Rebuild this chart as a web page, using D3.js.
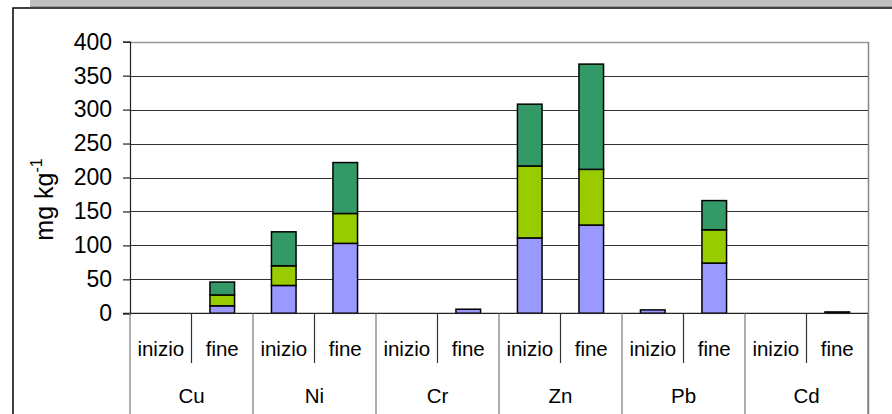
<!DOCTYPE html>
<html>
<head>
<meta charset="utf-8">
<script src="https://cdn.jsdelivr.net/npm/d3@7"></script>
<style>
  html, body { margin: 0; padding: 0; background: #fff; }
  svg { display: block; }
  text { font-family: "Liberation Sans", Arial, sans-serif; fill: #000; }
</style>
</head>
<body>
<svg id="chart" width="892" height="414"></svg>
<script>
// ---- data ----
const metals = ["Cu", "Ni", "Cr", "Zn", "Pb", "Cd"];
const phases = ["inizio", "fine"];
// three stacked components, one value per (metal, phase) slot, in order
const serie1 = [0, 11, 41, 103, 0, 6, 111, 130, 5, 74, 0, 2];
const serie2 = [0, 16, 29, 44, 0, 0, 106, 82, 0, 49, 0, 0];
const serie3 = [0, 19, 50, 75, 0, 0, 91, 155, 0, 43, 0, 0];
const yTicks = [0, 50, 100, 150, 200, 250, 300, 350, 400];
const yLabel = "mg kg";
const yLabelSup = "-1";

const seriesColors = ["#9999FF", "#99CC00", "#339966"];

// ---- layout ----
const svg = d3.select("#chart");
const W = 892, H = 414;
const plot = { left: 130, right: 868, top: 41.7, bottom: 313.3 };

// decorative frame
svg.append("rect").attr("x", 30).attr("y", 0).attr("width", W - 30).attr("height", 6.5).attr("fill", "#c0c0c0");
svg.append("line").attr("x1", 30).attr("x2", W).attr("y1", 6.5).attr("y2", 6.5).attr("stroke", "#999").attr("stroke-width", 1);
svg.append("path").attr("d", `M13,${H}V8H${W}`).attr("fill", "none").attr("stroke", "#000").attr("stroke-width", 1.5);

const slots = [];
metals.forEach(m => phases.forEach(p => slots.push(m + "|" + p)));

const x = d3.scaleBand().domain(slots).range([plot.left, plot.right]).padding(0);
const xGroup = d3.scaleBand().domain(metals).range([plot.left, plot.right]).padding(0);
const y = d3.scaleLinear().domain([0, 400]).range([plot.bottom, plot.top]);

// gridlines
svg.append("g").selectAll("line").data(yTicks.filter(t => t > 0)).join("line")
  .attr("x1", plot.left).attr("x2", plot.right)
  .attr("y1", d => Math.round(y(d)) + 0.5).attr("y2", d => Math.round(y(d)) + 0.5)
  .attr("stroke", "#333").attr("stroke-width", 1);

// plot area right border
svg.append("line").attr("x1", plot.right + 0.5).attr("x2", plot.right + 0.5)
  .attr("y1", plot.top).attr("y2", H).attr("stroke", "#888").attr("stroke-width", 1.5);
svg.append("line").attr("x1", plot.left).attr("x2", plot.right)
  .attr("y1", Math.round(y(400)) + 0.5).attr("y2", Math.round(y(400)) + 0.5)
  .attr("stroke", "#999").attr("stroke-width", 1.5);

// stacked bars
const table = slots.map((s, i) => ({ slot: s, s1: serie1[i], s2: serie2[i], s3: serie3[i] }));
const stack = d3.stack().keys(["s1", "s2", "s3"])(table);
const barW = x.bandwidth() / 2.5;
const gBars = svg.append("g");
stack.forEach((layer, li) => {
  gBars.append("g").selectAll("rect")
    .data(layer.filter(d => d[1] - d[0] > 0))
    .join("rect")
    .attr("x", d => x(d.data.slot) + (x.bandwidth() - barW) / 2)
    .attr("width", barW)
    .attr("y", d => y(d[1]))
    .attr("height", d => y(d[0]) - y(d[1]))
    .attr("fill", seriesColors[li])
    .attr("stroke", "#000")
    .attr("stroke-width", 1.5);
});

// y axis
const yAxis = d3.axisLeft(y).tickValues(yTicks).tickSize(7).tickPadding(11).tickFormat(d3.format("d"));
const gy = svg.append("g").attr("transform", `translate(${plot.left},0)`).call(yAxis);
gy.select(".domain").attr("stroke", "#222").attr("stroke-width", 1.2);
gy.selectAll(".tick line").attr("stroke", "#222").attr("stroke-width", 1.2);
gy.selectAll(".tick text").attr("font-size", 23).attr("font-family", '"Liberation Sans", Arial, sans-serif');

// x baseline
svg.append("line").attr("x1", plot.left - 7).attr("x2", plot.right)
  .attr("y1", plot.bottom).attr("y2", plot.bottom).attr("stroke", "#222").attr("stroke-width", 1.2);

// x axis: inner separators and group separators
const gx = svg.append("g");
gx.selectAll("line.inner").data(metals).join("line").attr("class", "inner")
  .attr("x1", d => xGroup(d) + xGroup.bandwidth() / 2).attr("x2", d => xGroup(d) + xGroup.bandwidth() / 2)
  .attr("y1", plot.bottom).attr("y2", 363)
  .attr("stroke", "#333").attr("stroke-width", 1.2);
const groupEdges = metals.map(m => xGroup(m)).concat([plot.right]);
gx.selectAll("line.group").data(groupEdges).join("line").attr("class", "group")
  .attr("x1", d => d).attr("x2", d => d)
  .attr("y1", plot.bottom).attr("y2", H)
  .attr("stroke", "#777").attr("stroke-width", 1.2);

gx.selectAll("text.phase").data(slots).join("text").attr("class", "phase")
  .attr("x", d => x(d) + x.bandwidth() / 2).attr("y", 356)
  .attr("text-anchor", "middle").attr("font-size", 20.5)
  .text(d => d.split("|")[1]);
gx.selectAll("text.metal").data(metals).join("text").attr("class", "metal")
  .attr("x", d => xGroup(d) + xGroup.bandwidth() / 2).attr("y", 403)
  .attr("text-anchor", "middle").attr("font-size", 20.5)
  .text(d => d);

// y label
const yl = svg.append("text")
  .attr("transform", `translate(53,${(plot.top + plot.bottom) / 2 + 22}) rotate(-90)`)
  .attr("text-anchor", "middle").attr("font-size", 25);
yl.append("tspan").text(yLabel);
yl.append("tspan").attr("font-size", 16).attr("dy", -11).text(yLabelSup);
</script>
</body>
</html>
